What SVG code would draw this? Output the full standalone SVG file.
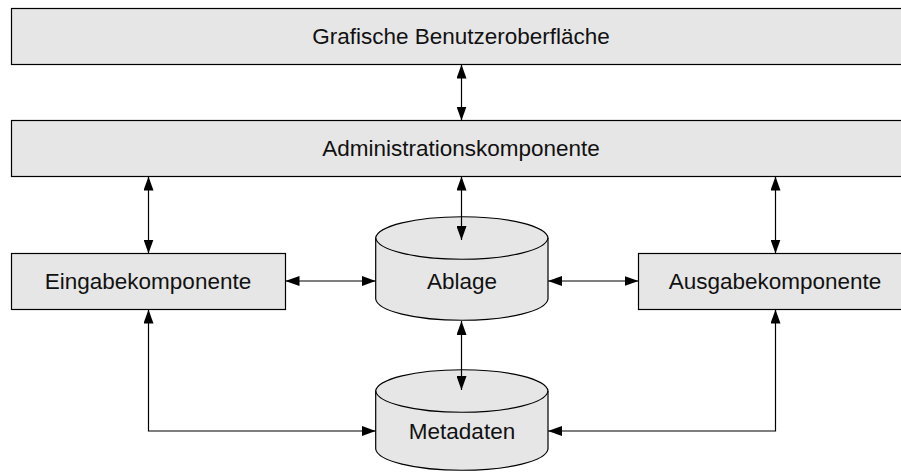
<svg xmlns="http://www.w3.org/2000/svg" width="901" height="472" viewBox="0 0 901 472">
  <defs>
    <marker id="arrow" viewBox="0 0 14 10" refX="14" refY="5" markerWidth="14" markerHeight="10" markerUnits="userSpaceOnUse" orient="auto-start-reverse">
      <path d="M0,0 L14,5 L0,10 Z" fill="#000"/>
    </marker>
  </defs>
  <style>
    .box { fill: #e6e6e6; stroke: #000; stroke-width: 1.2; }
    .rim { fill: none; stroke: #000; stroke-width: 1.2; }
    .label { font-family: "Liberation Sans", Arial, sans-serif; font-size: 22.5px; fill: #111; text-anchor: middle; dominant-baseline: central; }
    .conn { fill: none; stroke: #000; stroke-width: 1.2; marker-start: url(#arrow); marker-end: url(#arrow); }
  </style>
  <rect width="901" height="472" fill="#fff"/>

  <g id="gui">
    <rect class="box" x="11.5" y="8.5" width="892" height="56"/>
    <text class="label" x="461" y="36">Grafische Benutzeroberfläche</text>
  </g>

  <g id="admin">
    <rect class="box" x="11.5" y="120.5" width="892" height="56"/>
    <text class="label" x="461" y="148">Administrationskomponente</text>
  </g>

  <g id="eingabe">
    <rect class="box" x="11.5" y="253.5" width="274" height="56"/>
    <text class="label" x="148" y="281">Eingabekomponente</text>
  </g>

  <g id="ausgabe">
    <rect class="box" x="638.5" y="253.5" width="272" height="56"/>
    <text class="label" x="775" y="281">Ausgabekomponente</text>
  </g>

  <g id="ablage">
    <path class="box" d="M375.7,238 A86.2,22 0 0 1 548,238 L548,299 A86.2,22 0 0 1 375.7,299 Z"/>
    <path class="rim" d="M375.7,238 A86.2,22 0 0 0 548,238"/>
    <text class="label" x="462" y="281">Ablage</text>
  </g>

  <g id="metadaten">
    <path class="box" d="M375.7,391 A86.2,22 0 0 1 548,391 L548,449 A86.2,22 0 0 1 375.7,449 Z"/>
    <path class="rim" d="M375.7,391 A86.2,22 0 0 0 548,391"/>
    <text class="label" x="462" y="431">Metadaten</text>
  </g>

  <g id="connectors">
    <line class="conn" x1="461.5" y1="64.5" x2="461.5" y2="120.5"/>
    <line class="conn" x1="148.5" y1="176.5" x2="148.5" y2="253.5"/>
    <line class="conn" x1="461.5" y1="176.5" x2="461.5" y2="240"/>
    <line class="conn" x1="775.5" y1="176.5" x2="775.5" y2="253.5"/>
    <line class="conn" x1="285.5" y1="281" x2="375.7" y2="281"/>
    <line class="conn" x1="548" y1="281" x2="638.5" y2="281"/>
    <line class="conn" x1="461.5" y1="321" x2="461.5" y2="390"/>
    <polyline class="conn" points="148.5,309.5 148.5,431 375.7,431"/>
    <polyline class="conn" points="775.5,309.5 775.5,431 548,431"/>
  </g>
</svg>
